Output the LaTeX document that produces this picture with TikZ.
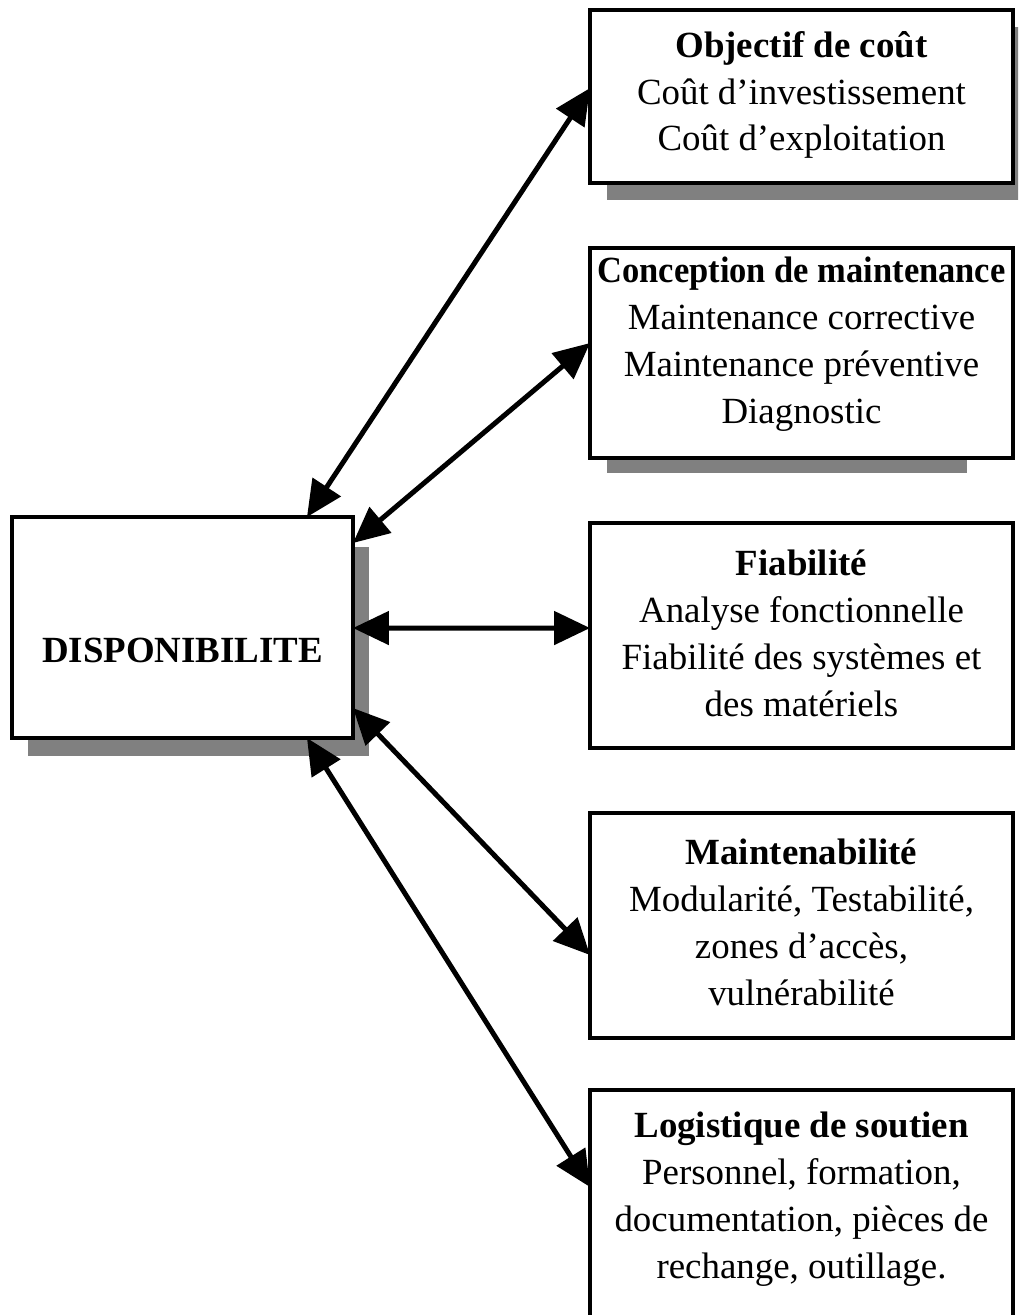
\documentclass[tikz,border=0pt]{standalone}
\usepackage{fontspec}
\usepackage{graphicx}
\setmainfont{Liberation Serif}
\usetikzlibrary{arrows.meta,calc}
\begin{document}
\begin{tikzpicture}[x=0.02cm, y=-0.02cm,
  framebox/.style={draw, line width=0.08cm, fill=white, inner sep=0pt, outer sep=0pt},
  boxtext/.style={align=center, inner sep=0pt, font=\fontsize{21pt}{26.7pt}\selectfont},
  dropshadow/.style={fill=gray, draw=none},
  link/.style={line width=0.1cm,
    {Triangle[length=0.72cm,width=0.66cm]}-{Triangle[length=0.72cm,width=0.66cm]}}]
  \clip (0,0) rectangle (1018,1315);
  \fill[white] (0,0) rectangle (1018,1315);

  % drop shadows behind the boxes
  \fill[dropshadow] (607,27) rectangle (1035,200);
  \fill[dropshadow] (607,265) rectangle (967,473);
  \fill[dropshadow] (28,547) rectangle (369,756);

  % boxes
  \node[framebox, minimum width=6.82cm, minimum height=4.42cm] (disp) at (182.5,627.5) {};
  \node[framebox, minimum width=8.46cm, minimum height=3.46cm] (cout) at (801.5,96.5) {};
  \node[framebox, minimum width=8.46cm, minimum height=4.2cm]  (conc) at (801.5,353) {};
  \node[framebox, minimum width=8.46cm, minimum height=4.5cm]  (fiab) at (801.5,635.5) {};
  \node[framebox, minimum width=8.46cm, minimum height=4.5cm]  (maint) at (801.5,925.5) {};
  \node[framebox, minimum width=8.46cm, minimum height=5cm]    (logi) at (801.5,1215) {};

  % texts
  \node[boxtext] (disp-t) at (182.5,650) {\textbf{DISPONIBILITE}};
  \node[boxtext] (cout-t) at (801.5,95) {\textbf{Objectif de coût}\\Coût d’investissement\\Coût d’exploitation};
  \node[boxtext] (conc-t) at (801.5,344) {\scalebox{0.935}[1]{\textbf{Conception de maintenance}}\\Maintenance corrective\\Maintenance préventive\\Diagnostic};
  \node[boxtext] (fiab-t) at (801.5,633) {\textbf{Fiabilité}\\Analyse fonctionnelle\\Fiabilité des systèmes et\\des matériels};
  \node[boxtext] (maint-t) at (801.5,922) {\textbf{Maintenabilité}\\Modularité, Testabilité,\\zones d’accès,\\vulnérabilité};
  \node[boxtext] (logi-t) at (801.5,1199) {\textbf{Logistique de soutien}\\Personnel, formation,\\documentation, pièces de\\rechange, outillage.};

  % double-headed links
  \draw[link] ($(disp.north east)+(-46,0)$) -- ($(cout.north west)+(0,78)$);
  \draw[link] ($(disp.north east)+(0,26)$) -- ($(conc.north west)+(0,95)$);
  \draw[link] ($(disp.north east)+(0,111)$) -- ($(fiab.north west)+(0,105)$);
  \draw[link] ($(disp.north east)+(0,191)$) -- ($(maint.north west)+(0,142)$);
  \draw[link] ($(disp.south east)+(-46,0)$) -- ($(logi.north west)+(0,97)$);
\end{tikzpicture}
\end{document}
